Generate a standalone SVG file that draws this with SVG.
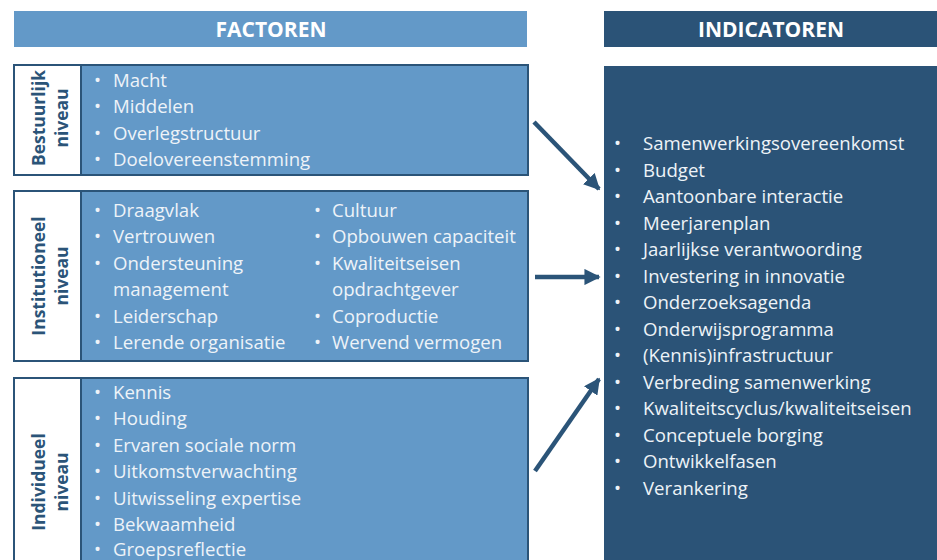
<svg xmlns="http://www.w3.org/2000/svg" width="937" height="560" viewBox="0 0 937 560">
<defs>
<style>
.hdr{font-family:"Open Sans","Liberation Sans",sans-serif;font-weight:bold;font-size:21px;fill:#ffffff;text-anchor:middle}
.panel{fill:#6399c8;stroke:#2b5478;stroke-width:2}
.cell{fill:#ffffff;stroke:#2b5478;stroke-width:2}
.it{font-family:"Open Sans","Liberation Sans",sans-serif;font-size:18.6px;fill:#eef3f8}
.lbl{font-family:"Open Sans","Liberation Sans",sans-serif;font-weight:bold;font-size:17.5px;fill:#2b5478;text-anchor:middle}
.arr{stroke:#2b5478;stroke-width:4.5;fill:none}
</style>
<marker id="ah" viewBox="0 0 10 10" refX="9" refY="5" markerWidth="3.6" markerHeight="3.6" orient="auto" markerUnits="strokeWidth">
<path d="M0,0 L10,5 L0,10 z" fill="#2b5478"/>
</marker>
</defs>
<rect width="937" height="560" fill="#ffffff"/>

<g id="factoren-header">
<rect x="14" y="11" width="513" height="36" fill="#6399c8"/>
<text class="hdr" x="271" y="37">FACTOREN</text>
</g>

<g id="indicatoren-header">
<rect x="604" y="11" width="333" height="36" fill="#2b5377"/>
<text class="hdr" x="771" y="37">INDICATOREN</text>
</g>

<g id="bestuurlijk">
<rect class="panel" x="14" y="65" width="514" height="110"/>
<rect class="cell" x="14" y="65" width="67" height="110"/>
<text class="lbl" transform="translate(45,118) rotate(-90)">Bestuurlijk</text>
<text class="lbl" transform="translate(68,118) rotate(-90)">niveau</text>
<g class="it">
<text x="94" y="87">•</text><text x="113" y="87">Macht</text>
<text x="94" y="113">•</text><text x="113" y="113">Middelen</text>
<text x="94" y="140">•</text><text x="113" y="140">Overlegstructuur</text>
<text x="94" y="166">•</text><text x="113" y="166">Doelovereenstemming</text>
</g>
</g>

<g id="institutioneel">
<rect class="panel" x="14" y="191" width="514" height="170"/>
<rect class="cell" x="14" y="191" width="67" height="170"/>
<text class="lbl" transform="translate(45,276) rotate(-90)">Institutioneel</text>
<text class="lbl" transform="translate(68,276) rotate(-90)">niveau</text>
<g class="it">
<text x="94" y="217">•</text><text x="113" y="217">Draagvlak</text>
<text x="94" y="243">•</text><text x="113" y="243">Vertrouwen</text>
<text x="94" y="270">•</text><text x="113" y="270">Ondersteuning</text>
<text x="113" y="296">management</text>
<text x="94" y="323">•</text><text x="113" y="323">Leiderschap</text>
<text x="94" y="349">•</text><text x="113" y="349">Lerende organisatie</text>
<text x="314" y="217">•</text><text x="332" y="217">Cultuur</text>
<text x="314" y="243">•</text><text x="332" y="243">Opbouwen capaciteit</text>
<text x="314" y="270">•</text><text x="332" y="270">Kwaliteitseisen</text>
<text x="332" y="296">opdrachtgever</text>
<text x="314" y="323">•</text><text x="332" y="323">Coproductie</text>
<text x="314" y="349">•</text><text x="332" y="349">Wervend vermogen</text>
</g>
</g>

<g id="individueel">
<rect class="panel" x="14" y="378" width="514" height="220"/>
<rect class="cell" x="14" y="378" width="67" height="220"/>
<text class="lbl" transform="translate(45,482) rotate(-90)">Individueel</text>
<text class="lbl" transform="translate(68,482) rotate(-90)">niveau</text>
<g class="it">
<text x="94" y="399">•</text><text x="113" y="399">Kennis</text>
<text x="94" y="425">•</text><text x="113" y="425">Houding</text>
<text x="94" y="452">•</text><text x="113" y="452">Ervaren sociale norm</text>
<text x="94" y="478">•</text><text x="113" y="478">Uitkomstverwachting</text>
<text x="94" y="505">•</text><text x="113" y="505">Uitwisseling expertise</text>
<text x="94" y="531">•</text><text x="113" y="531">Bekwaamheid</text>
<text x="94" y="556">•</text><text x="113" y="556">Groepsreflectie</text>
</g>
</g>

<g id="indicatoren">
<rect x="604" y="66" width="333" height="500" fill="#2b5377"/>
<g class="it">
<text x="614" y="150">•</text><text x="643" y="150">Samenwerkingsovereenkomst</text>
<text x="614" y="177">•</text><text x="643" y="177">Budget</text>
<text x="614" y="203">•</text><text x="643" y="203">Aantoonbare interactie</text>
<text x="614" y="230">•</text><text x="643" y="230">Meerjarenplan</text>
<text x="614" y="256">•</text><text x="643" y="256">Jaarlijkse verantwoording</text>
<text x="614" y="283">•</text><text x="643" y="283">Investering in innovatie</text>
<text x="614" y="309">•</text><text x="643" y="309">Onderzoeksagenda</text>
<text x="614" y="336">•</text><text x="643" y="336">Onderwijsprogramma</text>
<text x="614" y="362">•</text><text x="643" y="362">(Kennis)infrastructuur</text>
<text x="614" y="389">•</text><text x="643" y="389">Verbreding samenwerking</text>
<text x="614" y="415">•</text><text x="643" y="415">Kwaliteitscyclus/kwaliteitseisen</text>
<text x="614" y="442">•</text><text x="643" y="442">Conceptuele borging</text>
<text x="614" y="468">•</text><text x="643" y="468">Ontwikkelfasen</text>
<text x="614" y="495">•</text><text x="643" y="495">Verankering</text>
</g>
</g>

<g id="connectors">
<line class="arr" x1="534" y1="122" x2="599" y2="189" marker-end="url(#ah)"/>
<line class="arr" x1="535" y1="277" x2="599" y2="277" marker-end="url(#ah)"/>
<line class="arr" x1="535" y1="471" x2="599" y2="379" marker-end="url(#ah)"/>
</g>
</svg>
